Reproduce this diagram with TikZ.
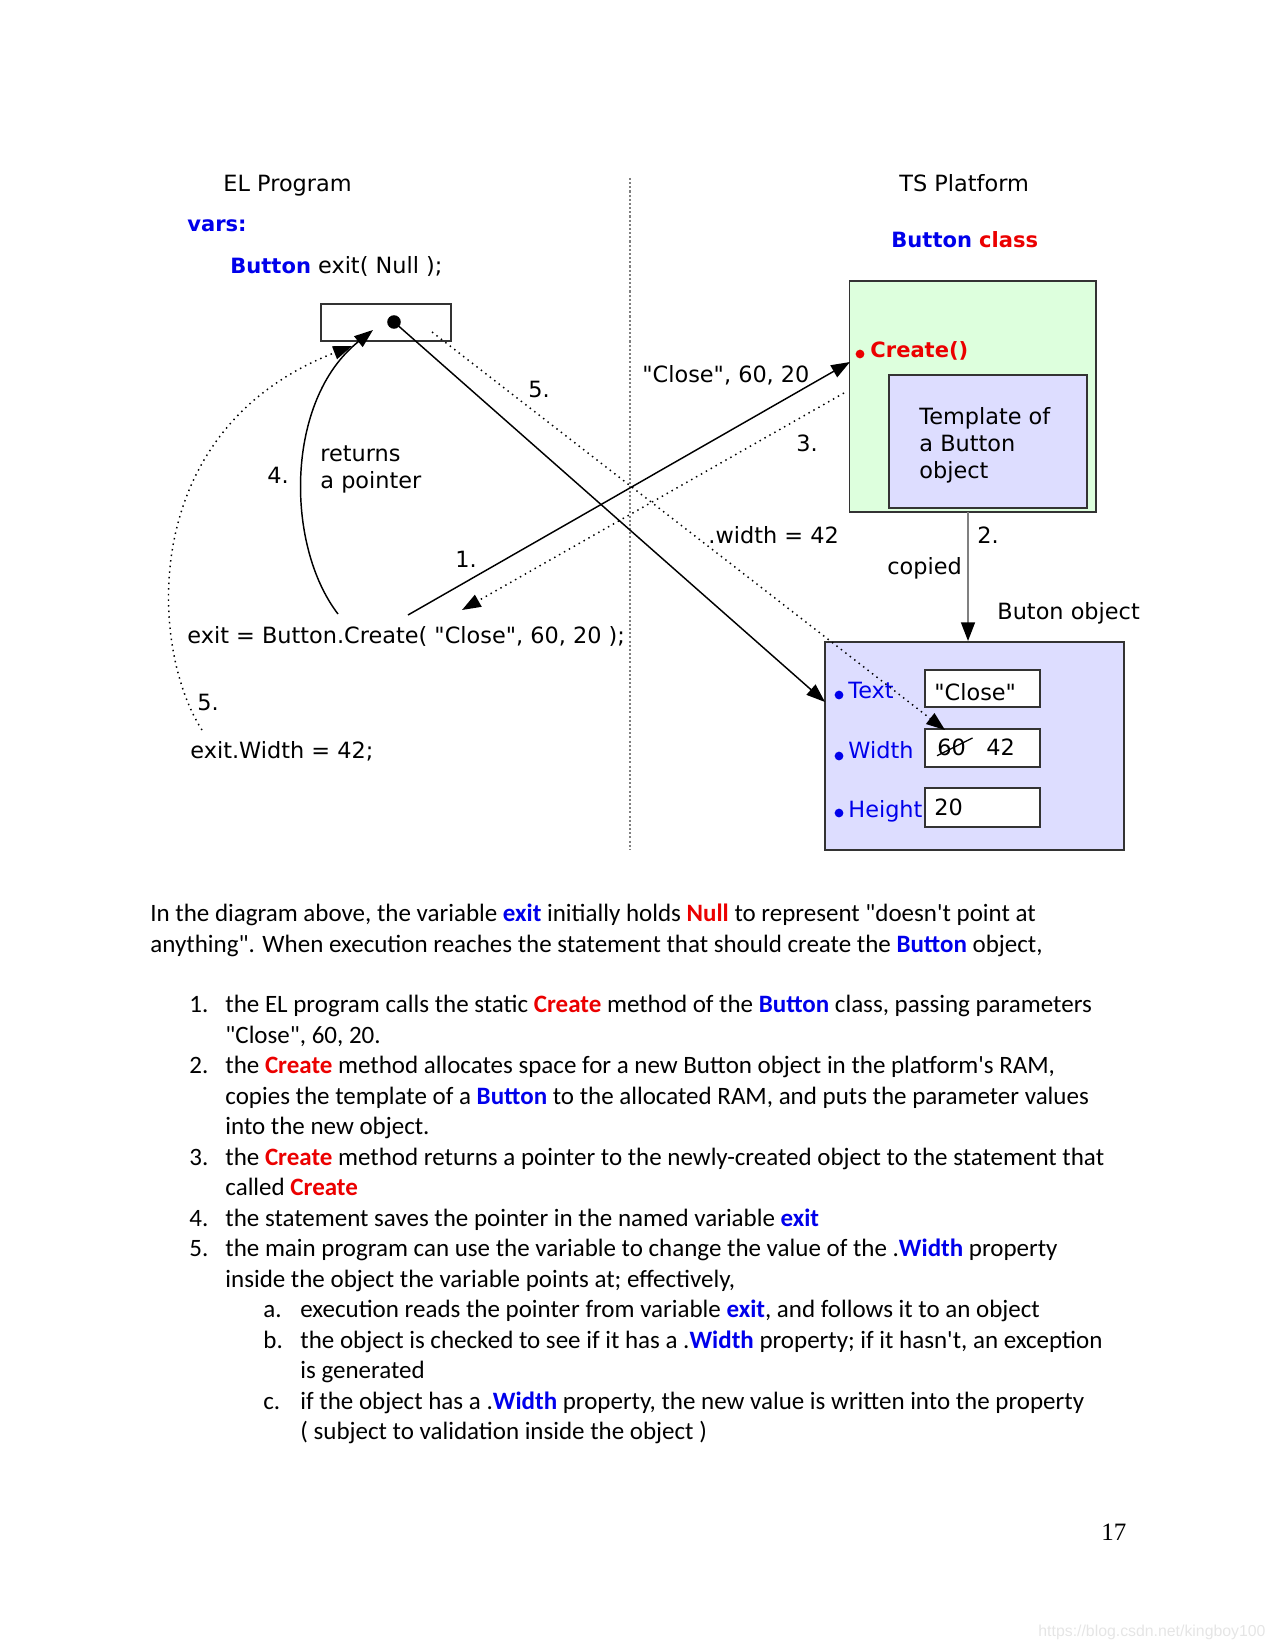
\documentclass[tikz,border=0pt]{standalone}
\usepackage{fontspec}
\setmainfont{Carlito}[Ligatures=TeXOff]
\newfontfamily\dgfont{DejaVu Sans}
\newfontfamily\pgnumfont{Liberation Serif}
\newfontfamily\wmfont{Liberation Sans}
\usetikzlibrary{arrows.meta,fit,positioning}
\definecolor{kwblue}{RGB}{0,0,235}
\definecolor{kwred}{RGB}{235,0,0}
\definecolor{clsfill}{RGB}{221,255,221}
\definecolor{objfill}{RGB}{221,221,255}
\newcommand{\kb}[1]{\textbf{\textcolor{kwblue}{#1}}}
\newcommand{\kr}[1]{\textbf{\textcolor{kwred}{#1}}}
\newcommand{\dgb}[2]{{\fontsize{10.1}{12}\selectfont\bfseries\textcolor{#1}{#2}}}

\begin{document}
\begin{tikzpicture}[x=0.48pt, y=-0.48pt, >={Triangle[length=9pt,width=6.5pt]},
	every node/.style={inner sep=0pt},
	dg/.style={font=\dgfont\fontsize{10.75}{12.8}\selectfont, anchor=base west},
	txt/.style={font=\fontsize{12}{14.65}\selectfont, anchor=base west},
	box/.style={draw=black!80, line width=0.8pt},
	fld/.style={box, fill=white},
	pdot/.style={circle, fill=kwblue, minimum size=4.2pt},
	pline/.style={line width=0.7pt},
	dline/.style={dotted, line width=0.7pt}]

	\useasboundingbox (0,0) rectangle (1275,1650);

	% program side | platform side
	\draw[gray, densely dotted, line width=1pt] (630,178) -- (630,850);

	\node (elhead) [dg] at (223,192) {EL Program};
	\node (tshead) [dg] at (899,192) {TS Platform};
	\node (vars) [dg] at (187,232) {\dgb{kwblue}{vars:}};
	\node (decl) [dg] at (230,274) {\dgb{kwblue}{Button} exit( Null );};
	\node (clshead) [dg] at (891,248) {\dgb{kwblue}{Button} \dgb{kwred}{class}};

	% the variable
	\node (ptrbox) [box, fit={(321,304) (451,341)}] {};
	\node (ptrdot) [circle, fill, minimum size=6.5pt] at (394,322) {};

	% Button class
	\node (classbox) [box, fill=clsfill, fit={(849.5,281) (1096,512)}] {};
	\node (createdot) [circle, fill=kwred, minimum size=4.2pt] at (860,354) {};
	\node (create) [dg] at (870,358) {\dgb{kwred}{Create()}};
	\node (tmpl) [box, fill=objfill, fit={(889,375) (1087,508)}] {};
	\node (tmpltxt) [dg, align=left] at (919,478) {Template of\\a Button\\object};

	% Button object
	\node (objbox) [box, fill=objfill, fit={(825,642) (1124,850)}] {};
	\node (objhead) [dg] at (997,619) {Buton object};
	\node (ftext) [fld, fit={(925,670) (1040,707)}] {};
	\node (fwidth) [fld, fit={(925,729) (1040,767)}] {};
	\node (fheight) [fld, fit={(925,788) (1040,827)}] {};
	\node (dtext) [pdot] at (839,695) {};
	\node (dwidth) [pdot] at (839,756) {};
	\node (dheight) [pdot] at (839,813) {};
	\node (ltext) [dg] at (848,698) {\textcolor{kwblue}{Text}};
	\node (lwidth) [dg] at (848,758) {\textcolor{kwblue}{Width}};
	\node (lheight) [dg] at (848,817) {\textcolor{kwblue}{Height}};
	\node (vtext) [dg] at (934,700) {"Close"};
	\node (vold) [dg] at (937,755) {60};
	\node (vnew) [dg] at (986,755) {42};
	\node (vheight) [dg] at (934,815) {20};
	\draw[line width=0.6pt] (vold.south west) -- ([xshift=3pt]vold.north east);

	% program lines
	\node (callstmt) [dg] at (187,643) {exit = Button.Create( "Close", 60, 20 );};
	\node (setstmt) [dg] at (190,758) {exit.Width = 42;};

	% step labels
	\node (args) [dg] at (642,383) {"Close", 60, 20};
	\node (s1) [dg] at (455,567) {1.};
	\node (s2) [dg] at (977,543) {2.};
	\node (copied) [dg] at (887,574) {copied};
	\node (s3) [dg] at (796,452) {3.};
	\node (s4) [dg] at (267,483) {4.};
	\node (retptr) [dg, align=left] at (320,488) {returns\\a pointer};
	\node (s5a) [dg] at (528,398) {5.};
	\node (s5b) [dg] at (197,710) {5.};
	\node (setw) [dg] at (708,543) {.width = 42};

	% connector ends
	\coordinate (callout) at (408,615);
	\coordinate (createin) at (850,362);
	\coordinate (retout) at (844,393);
	\coordinate (retin) at (462,610);
	\coordinate (savefrom) at (338,614);
	\coordinate (saveto) at (373,330);
	\coordinate (usefrom) at (202,730);
	\coordinate (useto) at (352,346);
	\coordinate (readfrom) at (432,332);
	\coordinate (objin) at (825,702);
	\coordinate (widthin) at (945,730);
	\coordinate (copyfrom) at (968,512);

	\draw[pline,->] (callout) -- (createin);
	\draw[dline,->] (retout) -- (retin);
	\draw[pline,->] (savefrom) .. controls (285,545) and (285,400) .. (saveto);
	\draw[dline,->] (usefrom) .. controls (150,650) and (135,430) .. (useto);
	\draw[dline,->] (readfrom) -- (widthin);
	\draw[pline,->] (ptrdot.center) -- (objin);
	\draw[gray, line width=1.3pt, -{Triangle[length=9pt,width=6.5pt,color=black]}] (copyfrom) -- (copyfrom |- objbox.north);

	% text below the diagram
	\node (p1) [txt] at (150,921) {In the diagram above, the variable \kb{exit} initially holds \kr{Null} to represent "doesn't point at};
	\node (p2) [txt] at (150,952) {anything". When execution reaches the statement that should create the \kb{Button} object,};
	\node (n1) [txt] at (189,1012) {1.};
	\node (i1a) [txt] at (225,1012) {the EL program calls the static \kr{Create} method of the \kb{Button} class, passing parameters};
	\node (i1b) [txt] at (225,1043) {"Close", 60, 20.};
	\node (n2) [txt] at (189,1073) {2.};
	\node (i2a) [txt] at (225,1073) {the \kr{Create} method allocates space for a new Button object in the platform's RAM,};
	\node (i2b) [txt] at (225,1104) {copies the template of a \kb{Button} to the allocated RAM, and puts the parameter values};
	\node (i2c) [txt] at (225,1134) {into the new object.};
	\node (n3) [txt] at (189,1165) {3.};
	\node (i3a) [txt] at (225,1165) {the \kr{Create} method returns a pointer to the newly-created object to the statement that};
	\node (i3b) [txt] at (225,1195) {called \kr{Create}};
	\node (n4) [txt] at (189,1226) {4.};
	\node (i4a) [txt] at (225,1226) {the statement saves the pointer in the named variable \kb{exit}};
	\node (n5) [txt] at (189,1256) {5.};
	\node (i5a) [txt] at (225,1256) {the main program can use the variable to change the value of the .\kb{Width} property};
	\node (i5b) [txt] at (225,1287) {inside the object the variable points at; effectively,};
	\node (na) [txt] at (263,1317) {a.};
	\node (ia) [txt] at (300,1317) {execution reads the pointer from variable \kb{exit}, and follows it to an object};
	\node (nb) [txt] at (263,1348) {b.};
	\node (iba) [txt] at (300,1348) {the object is checked to see if it has a .\kb{Width} property; if it hasn't, an exception};
	\node (ibb) [txt] at (300,1378) {is generated};
	\node (nc) [txt] at (263,1409) {c.};
	\node (ica) [txt] at (300,1409) {if the object has a .\kb{Width} property, the new value is written into the property};
	\node (icb) [txt] at (300,1439) {( subject to validation inside the object )};

	\node (pgnum) [anchor=base west, font=\pgnumfont\fontsize{12}{14}\selectfont] at (1101,1540) {17};
	\node (wmark) [anchor=base west, text=black!10, font=\wmfont\fontsize{7.6}{9}\selectfont] at (1038,1636) {https://blog.csdn.net/kingboy100};
\end{tikzpicture}
\end{document}
